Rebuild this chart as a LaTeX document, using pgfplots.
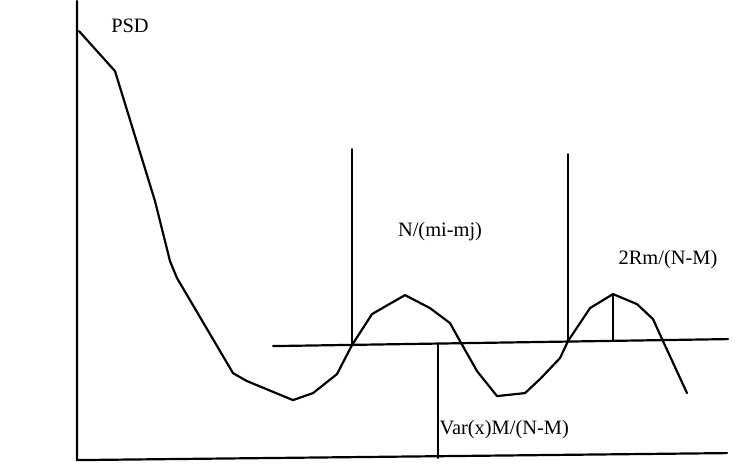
\documentclass[border=0pt]{standalone}
\usepackage{fontspec}
\setmainfont{Liberation Serif}
\usepackage{pgfplots}
\pgfplotsset{compat=1.18}
\tikzset{ln/.style={black,solid,line width=2.2bp,line join=round,line cap=round}}
\begin{document}
\begin{tikzpicture}
\begin{axis}[width=744bp,height=466bp,scale only axis,
  xmin=0,xmax=744,ymin=0,ymax=466,axis lines=none,clip=false]
\path[draw=none] (rel axis cs:0,0) rectangle (rel axis cs:1,1);
% axes
\addplot[ln,mark=none] coordinates {(77,466) (77,7) (727,14)};
% PSD curve
\addplot[ln,mark=none] coordinates {(79,436) (115,396) (155,266) (170,206) (177,189) (233,94) (247,86) (293,67) (313,74) (337,93) (352,122) (372,153) (405,172) (430,159) (450,144) (460,126) (477,96) (497,71) (525,74) (540,88) (560,109) (568,126) (590,159) (613,173) (637,163) (653,148) (663,126) (687,74)};
% horizontal level line
\addplot[ln,mark=none] coordinates {(273,121) (728,128)};
% vertical markers
\addplot[ln,mark=none] coordinates {(352,318) (352,122)};
\addplot[ln,mark=none] coordinates {(568,313) (568,126)};
\addplot[ln,mark=none] coordinates {(438,123) (438,9)};
\addplot[ln,mark=none] coordinates {(613,173) (613,126)};
\node[font=\fontsize{20.5}{24}\selectfont] at (axis cs:130,441) {PSD};
\node[font=\fontsize{20.5}{24}\selectfont] at (axis cs:440,236) {N/(mi-mj)};
\node[font=\fontsize{20.5}{24}\selectfont] at (axis cs:668,208) {2Rm/(N-M)};
\node[font=\fontsize{20.5}{24}\selectfont,anchor=west] at (axis cs:436,38) {Var(x)M/(N-M)};
\end{axis}
\end{tikzpicture}
\end{document}
